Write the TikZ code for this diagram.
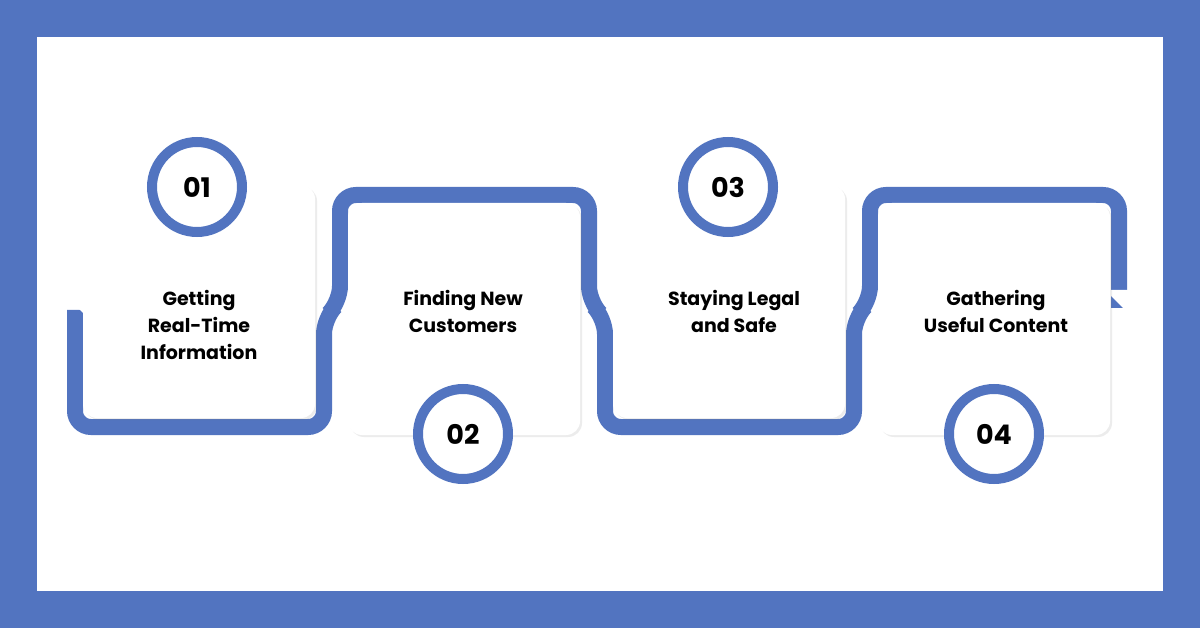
\documentclass[tikz,border=0pt]{standalone}
\usepackage{fontspec}
\setmainfont{Poppins}
\usetikzlibrary{shadows}
\definecolor{bl}{RGB}{82,116,192}
\begin{document}
\begin{tikzpicture}[x=1pt,y=-1pt,
  card/.style={fill=white,rounded corners=14pt,drop shadow={shadow xshift=2pt,shadow yshift=-2pt,opacity=0.15}},
  ring/.style={circle,draw=bl,line width=10pt,fill=white,minimum size=90pt,inner sep=0pt,font=\fontsize{27}{30}\selectfont\bfseries,drop shadow={shadow xshift=3pt,shadow yshift=-3pt,opacity=0.2}},
  lbl/.style={align=center,font=\fontsize{19}{27}\selectfont\bfseries}]
\useasboundingbox (0,0) rectangle (1200,628);
\fill[bl] (0,0) rectangle (1200,628);
\fill[white] (37,37) rectangle (1163,591);
\draw[bl,line width=16pt,rounded corners=16pt]
 (75,310) -- (75,427) -- (324,427) -- (324,318) -- (340,302) -- (340,195) -- (589,195) -- (589,302)
 -- (605,318) -- (605,427) -- (854,427) -- (854,318) -- (870,302) -- (870,195) -- (1119,195) -- (1119,308);
\fill[white] (60,290) -- (90,320) -- (90,290) -- cycle;
\fill[white] (1105,290) -- (1135,320) -- (1135,290) -- cycle;
\path[card] (83,185) rectangle (315,418);
\path[card] (348,203) rectangle (580,435);
\path[card] (613,185) rectangle (845,418);
\path[card] (878,203) rectangle (1110,435);
\node[lbl] (t1) at (199,325) {Getting\\Real-Time\\Information};
\node[lbl] (t2) at (463,311) {Finding New\\Customers};
\node[lbl] (t3) at (734,311) {Staying Legal\\and Safe};
\node[lbl] (t4) at (996,311) {Gathering\\Useful Content};
\node[ring] (c1) at (197,187) {01};
\node[ring] (c2) at (463,434) {02};
\node[ring] (c3) at (728,187) {03};
\node[ring] (c4) at (994,434) {04};
\end{tikzpicture}
\end{document}
